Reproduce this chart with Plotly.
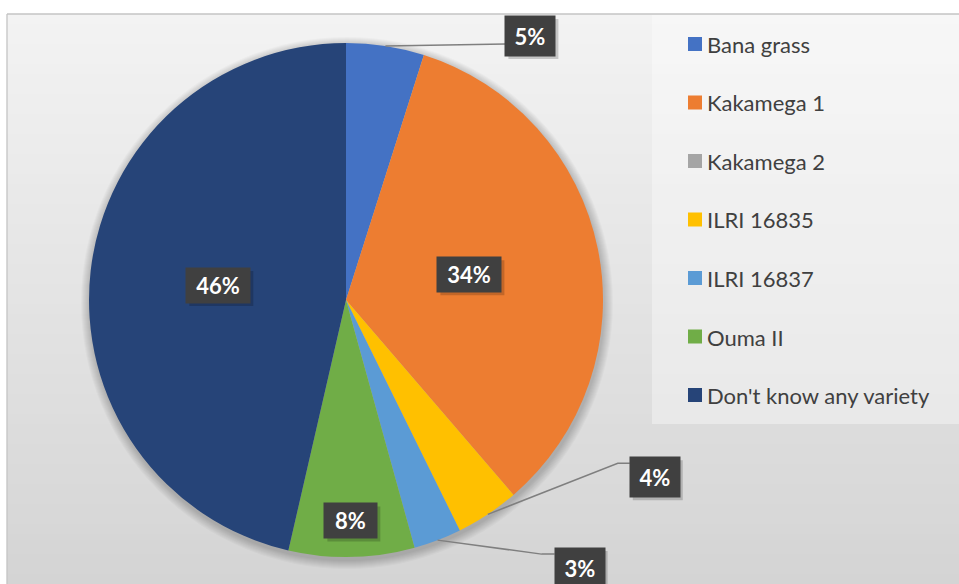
import math
import plotly.graph_objects as go

# ---------------- data ----------------
labels = ["Bana grass", "Kakamega 1", "Kakamega 2", "ILRI 16835",
          "ILRI 16837", "Ouma II", "Don't know any variety"]
values = [4.9, 33.8, 0, 4.0, 3.0, 7.9, 46.4]
colors = ["#4472C4", "#ED7D31", "#A5A5A5", "#FFC000",
          "#5B9BD5", "#70AD47", "#264478"]

# ---------------- layout helpers ----------------
W, H = 959, 584
CX, CY, R = 346, 300, 257          # pie centre / radius in pixels


def px(x):
    return x / W


def py(y):
    return 1 - y / H


# label placement style per slice index
# ("in", radial fraction)  or  ("out", box-centre offset, leader polyline offsets)
label_style = {
    0: ("out", (145, -10), [(0, 0), (120, -2)]),
    1: ("in", 0.49),
    3: ("out", (167, -37), [(0, 0), (130, -51), (142, -51)]),
    4: ("out", (142, 28), [(0, 0), (104, 14), (117, 14)]),
    5: ("in", 0.86),
    6: ("in", 0.50),
}

fig = go.Figure()

fig.add_trace(go.Pie(
    labels=labels, values=values,
    marker=dict(colors=colors, line=dict(width=0)),
    sort=False, direction="clockwise", rotation=0,
    textinfo="none", hoverinfo="label+percent", showlegend=False,
    domain=dict(x=[px(CX - R), px(CX + R)], y=[py(CY + R), py(CY - R)]),
))

shapes = []
# chart area gradient background
top, bottom, left = 14, 584, 7
n = 57
c0, c1 = 243, 212
for i in range(n):
    y0 = top + (bottom - top) * i / n
    y1 = top + (bottom - top) * (i + 1) / n + 0.6
    c = round(c0 + (c1 - c0) * (i + 0.5) / n)
    shapes.append(dict(type="rect", xref="paper", yref="paper", layer="below",
                       x0=px(left), x1=1, y0=py(y1), y1=py(y0),
                       fillcolor=f"rgb({c},{c},{c})", line=dict(width=0)))
# chart border (top & left)
shapes.append(dict(type="line", xref="paper", yref="paper", layer="below",
                   x0=px(left), x1=1, y0=py(top), y1=py(top),
                   line=dict(color="#c4c4c4", width=1.3)))
shapes.append(dict(type="line", xref="paper", yref="paper", layer="below",
                   x0=px(left), x1=px(left), y0=0, y1=py(top),
                   line=dict(color="#c4c4c4", width=1.3)))
# legend panel
shapes.append(dict(type="rect", xref="paper", yref="paper", layer="below",
                   x0=px(652), x1=1, y0=py(424), y1=py(top + 1),
                   fillcolor="rgba(255,255,255,0.35)", line=dict(width=0)))
# soft pie shadow
for k in range(1, 10):
    rr = R + k
    shapes.append(dict(type="circle", xref="paper", yref="paper", layer="below",
                       x0=px(CX - rr + 1), x1=px(CX + rr + 1),
                       y0=py(CY + rr + 3), y1=py(CY - rr + 3),
                       fillcolor="rgba(0,0,0,0.025)", line=dict(width=0)))

annotations = []
total = sum(values)
cum = 0.0
for i, v in enumerate(values):
    mid = (cum + v / 2) / total * 2 * math.pi
    cum += v
    if i not in label_style:
        continue
    pct = f"{round(100 * v / total)}%"
    st = label_style[i]
    if st[0] == "in":
        lx = CX + st[1] * R * math.sin(mid)
        ly = CY - st[1] * R * math.cos(mid)
        bw, bh = 56 if len(pct) > 2 else 45, 27
    else:
        ax = CX + R * math.sin(mid)
        ay = CY - R * math.cos(mid)
        lx, ly = ax + st[1][0], ay + st[1][1]
        pts = [(ax + dx, ay + dy) for dx, dy in st[2]]
        path = "M " + " L ".join(f"{px(x)},{py(y)}" for x, y in pts)
        shapes.append(dict(type="path", xref="paper", yref="paper", path=path,
                           line=dict(color="#7f7f7f", width=1.5)))
        bw, bh = 42, 32
    # box shadow
    shapes.append(dict(type="rect", xref="paper", yref="paper",
                       x0=px(lx - bw / 2 - 4 + 3), x1=px(lx + bw / 2 + 4 + 3),
                       y0=py(ly + bh / 2 + 4 + 3), y1=py(ly - bh / 2 - 4 + 3),
                       fillcolor="rgba(0,0,0,0.18)", line=dict(width=0)))
    annotations.append(dict(xref="paper", yref="paper", x=px(lx), y=py(ly),
                            xanchor="center", yanchor="middle", showarrow=False,
                            text=f"<b>{pct}</b>", borderpad=4,
                            width=bw, height=bh, align="center", valign="middle",
                            font=dict(family="Lato", size=22, color="white"),
                            bgcolor="#404040"))

# manual legend
for i, (lab, col) in enumerate(zip(labels, colors)):
    yc = 44 + i * 58.5
    shapes.append(dict(type="rect", xref="paper", yref="paper",
                       x0=px(688), x1=px(702), y0=py(yc + 7), y1=py(yc - 7),
                       fillcolor=col, line=dict(width=0)))
    annotations.append(dict(xref="paper", yref="paper", x=px(705), y=py(yc + 0.5),
                            xanchor="left", yanchor="middle", showarrow=False,
                            text=lab, font=dict(family="Lato", size=22, color="#404040")))

fig.update_layout(
    width=W, height=H,
    margin=dict(l=0, r=0, t=0, b=0),
    paper_bgcolor="white", plot_bgcolor="white",
    shapes=shapes, annotations=annotations,
    showlegend=False,
)

fig.write_html("out.html", config={"displayModeBar": False},
               post_script="document.body.style.margin='0px';")
